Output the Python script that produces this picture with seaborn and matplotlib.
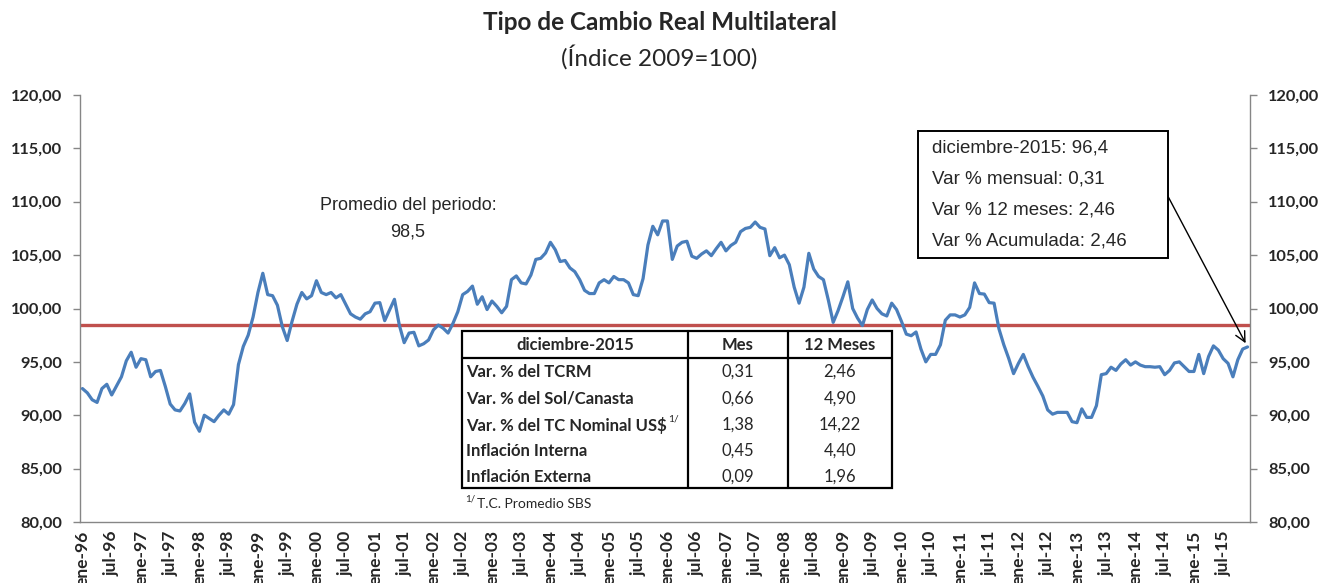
import numpy as np
import pandas as pd
import matplotlib
matplotlib.use("Agg")
import matplotlib.pyplot as plt
import matplotlib.transforms as mtransforms
import seaborn as sns
from matplotlib.patches import Rectangle
from matplotlib.lines import Line2D

# ---------------- data ----------------
start_month = "1996-01-01"
tcrm = [
    92.5, 92.1, 91.45, 91.2, 92.5, 92.9, 91.9, 92.75, 93.6, 95.1, 95.9, 94.5,
    95.3, 95.2, 93.6, 94.1, 94.2, 92.7, 91.05, 90.5, 90.4, 91.1, 92.0, 89.35,
    88.5, 90.0, 89.7, 89.4, 90.0, 90.5, 90.1, 91.0, 94.75, 96.45, 97.5, 99.2,
    101.5, 103.3, 101.3, 101.2, 100.3, 98.3, 97.0, 98.8, 100.4, 101.5, 100.9, 101.2,
    102.6, 101.5, 101.3, 101.5, 101.0, 101.3, 100.4, 99.5, 99.2, 99.0, 99.5, 99.7,
    100.5, 100.55, 98.86, 99.86, 100.86, 98.45, 96.8, 97.7, 97.77, 96.5, 96.7, 97.05,
    98.0, 98.45, 98.15, 97.7, 98.6, 99.7, 101.3, 101.6, 102.1, 100.4, 101.1, 99.9,
    100.7, 100.2, 99.6, 100.2, 102.7, 103.05, 102.4, 102.3, 103.14, 104.6, 104.7, 105.2,
    106.2, 105.5, 104.4, 104.5, 103.8, 103.45, 102.7, 101.7, 101.4, 101.4, 102.4, 102.7,
    102.4, 103.0, 102.7, 102.7, 102.4, 101.3, 101.2, 102.8, 105.95, 107.7, 106.9, 108.2,
    108.2, 104.6, 105.85, 106.2, 106.3, 104.9, 104.7, 105.1, 105.4, 104.95, 105.6, 106.2,
    105.4, 105.9, 106.2, 107.2, 107.5, 107.6, 108.1, 107.6, 107.45, 104.95, 105.7, 104.75,
    105.0, 104.1, 102.0, 100.5, 102.0, 105.17, 103.7, 103.0, 102.7, 100.8, 98.7, 99.8,
    101.1, 102.5, 100.0, 99.1, 98.4, 99.9, 100.8, 100.0, 99.5, 99.3, 100.5, 99.9,
    98.8, 97.6, 97.45, 97.8, 96.2, 95.0, 95.7, 95.7, 96.6, 98.9, 99.4, 99.4,
    99.2, 99.4, 100.1, 102.4, 101.4, 101.35, 100.55, 100.5, 98.1, 96.6, 95.33, 93.9,
    94.86, 95.7, 94.55, 93.55, 92.7, 91.8, 90.5, 90.1, 90.27, 90.27, 90.27, 89.4,
    89.3, 90.6, 89.8, 89.8, 90.9, 93.8, 93.9, 94.5, 94.2, 94.8, 95.2, 94.7,
    95.0, 94.7, 94.55, 94.55, 94.5, 94.55, 93.8, 94.2, 94.9, 95.0, 94.55, 94.1,
    94.1, 95.7, 93.9, 95.5, 96.5, 96.1, 95.3, 94.86, 93.6, 95.2, 96.2, 96.4,
]
promedio = 98.5
promedio_label = ["Promedio del periodo:", "98,5"]
box_lines = ["diciembre-2015: 96,4", "Var % mensual: 0,31",
             "Var % 12 meses: 2,46", "Var % Acumulada: 2,46"]
table_header = ["diciembre-2015", "Mes", "12 Meses"]
table_rows = ["Var. % del TCRM", "Var. % del Sol/Canasta", "Var. % del TC Nominal US$",
              "Inflación Interna", "Inflación Externa"]
table_mes = ["0,31", "0,66", "1,38", "0,45", "0,09"]
table_12m = ["2,46", "4,90", "14,22", "4,40", "1,96"]
footnote = "T.C. Promedio SBS"
title = "Tipo de Cambio Real Multilateral"
subtitle = "(Índice 2009=100)"
y_ticks = [80, 85, 90, 95, 100, 105, 110, 115, 120]

dates = pd.date_range(start_month, periods=len(tcrm), freq="MS")
mes_abbr = {1: "ene", 7: "jul"}
df = pd.DataFrame({"i": np.arange(len(tcrm)), "v": tcrm, "date": dates})
tick_idx = [k for k, d in enumerate(dates) if d.month in mes_abbr]
tick_labels = [f"{mes_abbr[dates[k].month]}-{dates[k].strftime('%y')}" for k in tick_idx]

# ---------------- style ----------------
sns.set_theme(style="white")
plt.rcParams["font.family"] = ["Lato", "DejaVu Sans"]
ARIAL = ["Liberation Sans", "DejaVu Sans"]

W, H = 1319, 583
fig = plt.figure(figsize=(W / 100, H / 100), dpi=100)
def fx(x): return x / W
def fy(y): return 1 - y / H

ax = fig.add_axes([fx(80), fy(522), 1170 / W, 427 / H])
sns.lineplot(data=df, x="i", y="v", ax=ax, color="#4A7EBB", linewidth=2.3, zorder=3)
ax.axhline(promedio, color="#C0504D", linewidth=2.4, zorder=2)

ax.set_xlim(-0.5, len(tcrm) - 0.5)
ax.set_ylim(80, 120)
ax.set_xlabel("")
ax.set_ylabel("")
ax.set_yticks(y_ticks)
fmt = lambda v: f"{v:.2f}".replace(".", ",")
ax.set_yticklabels([fmt(v) for v in y_ticks], fontsize=11.8, fontweight="bold")
ax.set_xticks(tick_idx)
ax.set_xticklabels(tick_labels, rotation=90, fontsize=12.5, fontweight="bold", va="top", ha="center")
shift = mtransforms.ScaledTranslation(6 / 100, 0, fig.dpi_scale_trans)
for lab in ax.get_xticklabels():
    lab.set_transform(lab.get_transform() + shift)
ax.set_xticks(np.array(tick_idx) - 0.5, minor=True)
ax.tick_params(axis="x", which="major", length=0, pad=6)
ax.tick_params(axis="x", which="minor", length=5, color="#868686", width=1, direction="out")
ax.tick_params(axis="y", length=5, color="#868686", width=1, direction="out", pad=8)
for s in ["left", "right", "bottom"]:
    ax.spines[s].set_color("#868686")
    ax.spines[s].set_linewidth(1)
ax.spines["top"].set_visible(False)

ax2 = ax.twinx()
ax2.set_ylim(80, 120)
ax2.set_yticks(y_ticks)
ax2.set_yticklabels([fmt(v) for v in y_ticks], fontsize=11.8, fontweight="bold")
ax2.tick_params(axis="y", length=5, color="#868686", width=1, direction="out", pad=8)
for s in ["left", "right", "bottom", "top"]:
    ax2.spines[s].set_visible(False)
ax2.grid(False)
ax.grid(False)

# ---------------- titles ----------------
fig.text(0.5, fy(23), title, ha="center", va="center", fontsize=17.5, fontweight="bold")
fig.text(0.5, fy(57), subtitle, ha="center", va="center", fontsize=17.5)

# promedio label
fig.text(fx(408), fy(206), promedio_label[0], ha="center", va="center", fontsize=13, family=ARIAL)
fig.text(fx(408), fy(232), promedio_label[1], ha="center", va="center", fontsize=13, family=ARIAL)

# ---------------- info box + arrow ----------------
fig.patches.append(Rectangle((fx(918), fy(258)), 250 / W, 127 / H, transform=fig.transFigure,
                             facecolor="white", edgecolor="black", linewidth=1.4, zorder=5))
for k, line in enumerate(box_lines):
    fig.text(fx(932), fy(148 + k * 31), line, ha="left", va="center", fontsize=13.5,
             family=ARIAL, zorder=6)
ax.annotate("", xy=(len(tcrm) - 1, tcrm[-1]), xycoords="data",
            xytext=(fx(1153), fy(168)), textcoords="figure fraction",
            arrowprops=dict(arrowstyle="->", color="black", lw=1.0, shrinkA=0, shrinkB=3,
                            mutation_scale=18), zorder=4)

# ---------------- table ----------------
tl, tr, tt, tb = 462, 892, 331, 488
c1, c2 = 688, 788
hb = 358
fig.patches.append(Rectangle((fx(tl), fy(tb)), (tr - tl) / W, (tb - tt) / H, transform=fig.transFigure,
                             facecolor="white", edgecolor="black", linewidth=1.6, zorder=5))
for xs, ys in [([c1, c1], [tt, tb]), ([c2, c2], [tt, tb]), ([tl, tr], [hb, hb])]:
    fig.lines.append(Line2D([fx(x) for x in xs], [fy(y) for y in ys], transform=fig.transFigure,
                            color="black", linewidth=1.6, zorder=6))
hdr_y = 345
TFS = 12
fig.text(fx((tl + c1) / 2), fy(hdr_y), table_header[0], ha="center", va="center", fontsize=TFS, fontweight="bold", zorder=7)
fig.text(fx((c1 + c2) / 2), fy(hdr_y), table_header[1], ha="center", va="center", fontsize=TFS, fontweight="bold", zorder=7)
fig.text(fx((c2 + tr) / 2), fy(hdr_y), table_header[2], ha="center", va="center", fontsize=TFS, fontweight="bold", zorder=7)
row_y = [372, 399, 425, 451, 477]
fig.canvas.draw()
renderer = fig.canvas.get_renderer()
for k, (lab, m, a) in enumerate(zip(table_rows, table_mes, table_12m)):
    t = fig.text(fx(466), fy(row_y[k]), lab, ha="left", va="center", fontsize=TFS, fontweight="bold", zorder=7)
    if "US$" in lab:
        bb = t.get_window_extent(renderer=renderer)
        fig.text(bb.x1 / W + 1 / W, fy(row_y[k] - 6), "1/", ha="left", va="center", fontsize=7.5, zorder=7)
    fig.text(fx((c1 + c2) / 2), fy(row_y[k]), m, ha="center", va="center", fontsize=TFS, zorder=7)
    fig.text(fx((c2 + tr) / 2), fy(row_y[k]), a, ha="center", va="center", fontsize=TFS, zorder=7)
fig.text(fx(465), fy(499), "1/", ha="left", va="center", fontsize=7, zorder=7)
fig.text(fx(477), fy(504), footnote, ha="left", va="center", fontsize=10, zorder=7)

fig.savefig("out.png", dpi=100)
